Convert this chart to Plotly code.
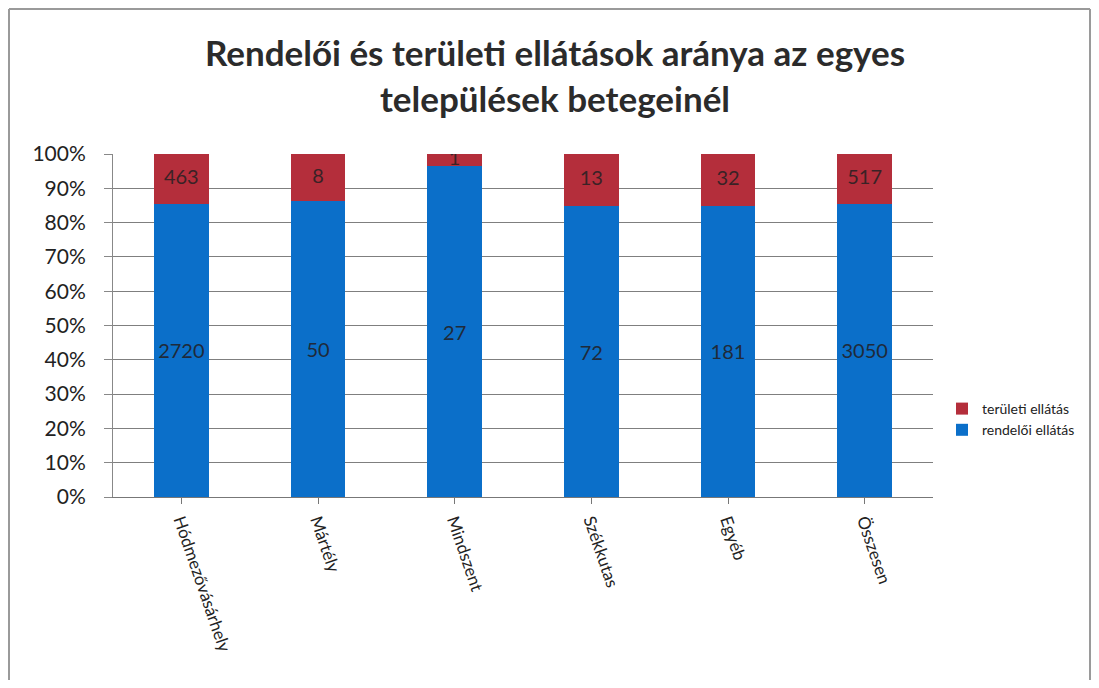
import plotly.graph_objects as go

categories = ["Hódmezővásárhely", "Mártély", "Mindszent", "Székkutas", "Egyéb", "Összesen"]
rendeloi = [2720, 50, 27, 72, 181, 3050]
teruleti = [463, 8, 1, 13, 32, 517]
series_names = ["rendelői ellátás", "területi ellátás"]
y_ticks = [0, 10, 20, 30, 40, 50, 60, 70, 80, 90, 100]
y_tick_labels = [f"{v}%" for v in y_ticks]

totals = [a + b for a, b in zip(rendeloi, teruleti)]
pct_r = [a / t * 100 for a, t in zip(rendeloi, totals)]
pct_t = [b / t * 100 for b, t in zip(teruleti, totals)]
mid_t = [r + t / 2 for r, t in zip(pct_r, pct_t)]

FONT = "Lato, 'Open Sans', sans-serif"
BLUE = "#0b6fc9"
RED = "#b42e3b"

fig = go.Figure()
fig.add_trace(go.Bar(
    x=categories, y=pct_r, name=series_names[0],
    text=[str(v) for v in rendeloi], textposition="inside", insidetextanchor="middle",
    constraintext="none", textangle=0,
    textfont=dict(size=20, color="#1f2a3a", family=FONT),
    marker=dict(color=BLUE, line=dict(width=0)),
    width=0.4,
))
fig.add_trace(go.Bar(
    x=categories, y=pct_t, name=series_names[1],
    textposition="none",
    marker=dict(color=RED, line=dict(width=0)),
    width=0.4,
))
fig.add_trace(go.Scatter(
    x=categories, y=mid_t, mode="text",
    text=[str(v) for v in teruleti], textposition="middle center",
    textfont=dict(size=20, color="#3a2226", family=FONT),
    showlegend=False, hoverinfo="skip",
))

# page is offset by 8px (body margin); keep figure inside the window
W, H = 1083, 672
L, T = 105, 146
R = W - 925
B = H - 489
pw, ph = W - L - R, H - T - B

xl, xr = (1 - L) / pw, (W - 1 - L) / pw
yt, yb = (489 - 1) / ph, (489 - H - 10) / ph
frame = dict(color="#9a9a9a", width=2)

fig.update_layout(
    template="none",
    barmode="stack",
    width=W, height=H,
    margin=dict(l=L, r=R, t=T, b=B, autoexpand=False),
    paper_bgcolor="white", plot_bgcolor="white",
    font=dict(family=FONT, color="#222"),
    title=dict(
        text="<b>Rendelői és területi ellátások aránya az egyes<br>települések betegeinél</b>",
        x=547 / W, xref="container", xanchor="center", y=1 - 58 / H, yref="container", yanchor="top",
        font=dict(size=35, color="#2b2b2b", family=FONT),
    ),
    showlegend=True,
    legend=dict(
        traceorder="reversed", xref="container", yref="container",
        x=934 / W, y=1 - 385 / H,
        xanchor="left", yanchor="top",
        font=dict(size=14, color="#222", family=FONT),
        itemwidth=30, tracegroupgap=4, bgcolor="rgba(0,0,0,0)",
    ),
    xaxis=dict(
        automargin=False,
        tickangle=71, tickfont=dict(size=17, color="#222", family=FONT),
        showline=True, linecolor="#777", linewidth=1,
        ticks="outside", ticklen=6, tickcolor="#777",
        showgrid=False, zeroline=False,
    ),
    yaxis=dict(
        automargin=False,
        range=[0, 100], tickvals=y_ticks, ticktext=y_tick_labels,
        tickfont=dict(size=21, color="#222", family=FONT),
        showgrid=True, gridcolor="#7f7f7f", gridwidth=1,
        showline=True, linecolor="#888", linewidth=1,
        ticks="outside", ticklen=8, tickcolor="#888",
        ticklabelstandoff=14,
        zeroline=False,
    ),
    shapes=[
        dict(type="line", xref="paper", yref="paper", x0=xl, x1=xr, y0=yt, y1=yt, line=frame, layer="below"),
        dict(type="line", xref="paper", yref="paper", x0=xl, x1=xl, y0=yb, y1=yt, line=frame, layer="below"),
        dict(type="line", xref="paper", yref="paper", x0=xr, x1=xr, y0=yb, y1=yt, line=frame, layer="below"),
    ],
)

fig.write_html("out.html")
